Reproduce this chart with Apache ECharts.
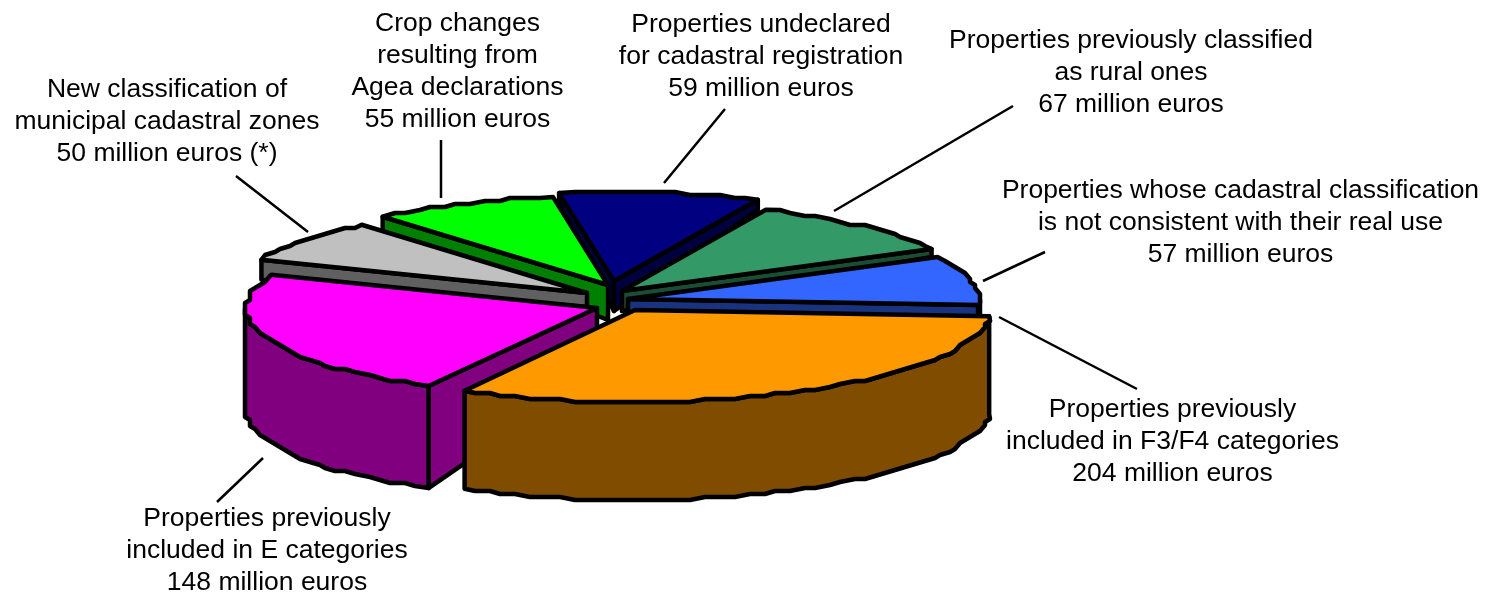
<!DOCTYPE html>
<html><head><meta charset="utf-8">
<style>html,body{margin:0;padding:0;background:#fff}#c{width:1486px;height:595px}</style>
<script src="https://cdn.jsdelivr.net/npm/echarts@6/dist/echarts.min.js"></script>
</head><body><div id="c"></div>
<script>
// ---- data (clockwise from the first slice) ----
const names = [
  'Properties undeclared\nfor cadastral registration',
  'Properties previously classified\nas rural ones',
  'Properties whose cadastral classification\nis not consistent with their real use',
  'Properties previously\nincluded in F3/F4 categories',
  'Properties previously\nincluded in E categories',
  'New classification of\nmunicipal cadastral zones',
  'Crop changes\nresulting from\nAgea declarations'
];
const values = [59, 67, 57, 204, 148, 50, 55];
const notes = ['', '', '', '', '', ' (*)', ''];

// ---- styles ----
const topColors  = ['#000080', '#339966', '#3366FF', '#FF9900', '#FF00FF', '#C0C0C0', '#00FF00'];
const sideColors = ['#000040', '#1A4D33', '#1A3380', '#804D00', '#800080', '#606060', '#008000'];

// ---- layout ----
const firstAngle = -9;
const radiusX = [351, 351, 351, 355, 351, 351, 351];
const radiusY = [89, 89, 89, 92, 89, 89, 89];
const hubBase = [612, 298];
const explodeX = [2, 10, 16, 23, -15, -25, -4];
const explodeY = [-17, -7, 1, 12, 10, -5, -13];
const rimDepth = [10, 8, 12, 98, 102, 20, 15];
const hubDepth = [30, 20, 14, 98, 64, 14, 35];
const paintOrder = [0, 6, 1, 5, 2, 4, 3];
const snapX = 5, snapY = 3;
const labelX = [761, 1131, 1240.5, 1172.5, 267, 167, 457.5];
const labelY = [57, 73, 223, 442, 551, 122, 72];
const leaderX1 = [725, 1013, 1045, 1137, 263, 236, 441];
const leaderY1 = [109, 106, 252, 389, 458, 176, 140];
const leaderX2 = [664, 834, 983, 999, 217, 308, 441];
const leaderY2 = [183, 211, 281, 317, 502, 232, 198];

const total = values.reduce((a, b) => a + b, 0);
const starts = [];
values.reduce((acc, v, i) => { starts[i] = acc; return acc + v / total * 360; }, firstAngle);

function renderSlice(params, api) {
  const i = api.value(0);
  const a0 = starts[i], a1 = a0 + values[i] / total * 360;
  const hx = hubBase[0] + explodeX[i], hy = hubBase[1] + explodeY[i];
  const rx = radiusX[i], ry = radiusY[i];
  const rad = d => d * Math.PI / 180;
  const exact = d => [hx + rx * Math.sin(rad(d)), hy - ry * Math.cos(rad(d))];
  const rim = d => {
    const p = exact(d);
    return [Math.round(p[0] / snapX) * snapX, Math.round(p[1] / snapY) * snapY];
  };
  const arc = [];
  const step = 2.4;
  for (let d = a0; d < a1; d += step) arc.push(d);
  arc.push(a1);
  const arcPts = arc.map(rim);
  arcPts[0] = exact(a0); arcPts[arcPts.length - 1] = exact(a1);
  const poly = (pts, fill) => ({
    type: 'polygon', silent: true,
    shape: { points: pts.map(p => api.coord(p)) },
    style: { fill: fill, stroke: '#000', lineWidth: 4.5, lineJoin: 'round' }
  });
  const children = [];
  const rd = rimDepth[i], hd = hubDepth[i];
  const wall = d => {
    const p = exact(d);
    return poly([[hx, hy], p, [p[0], p[1] + rd], [hx, hy + hd]], sideColors[i]);
  };
  const norm = d => ((d % 360) + 360) % 360;
  if (norm(a0) > 180) children.push(wall(a0));
  if (norm(a1) < 180) children.push(wall(a1));
  const front = arc.map((d, k) => [d, arcPts[k]]).filter(e => norm(e[0]) >= 90 && norm(e[0]) <= 270).map(e => e[1]);
  if (front.length > 1) {
    const lower = front.slice().reverse().map(p => [p[0], p[1] + rd]);
    children.push(poly(front.concat(lower), sideColors[i]));
  }
  children.push(poly([[hx, hy]].concat(arcPts), topColors[i]));
  return { type: 'group', children: children };
}

const chart = echarts.init(document.getElementById('c'), null, { renderer: 'canvas' });
chart.setOption({
  animation: false,
  backgroundColor: '#fff',
  grid: { left: 0, right: 0, top: 0, bottom: 0 },
  xAxis: { type: 'value', min: 0, max: 1486, show: false },
  yAxis: { type: 'value', min: 0, max: 595, inverse: true, show: false },
  series: [
    {
      type: 'custom', coordinateSystem: 'cartesian2d', silent: true,
      data: values.map((v, i) => [leaderX1[i], leaderY1[i], leaderX2[i], leaderY2[i]]),
      renderItem: (p, api) => {
        const a = api.coord([api.value(0), api.value(1)]), b = api.coord([api.value(2), api.value(3)]);
        return { type: 'line', silent: true, shape: { x1: a[0], y1: a[1], x2: b[0], y2: b[1] },
          style: { stroke: '#000', lineWidth: 2.5, fill: null } };
      }
    },
    {
      type: 'custom', coordinateSystem: 'cartesian2d', silent: true,
      data: paintOrder.map(i => [i, values[i]]),
      encode: { x: 0, y: 1 },
      renderItem: renderSlice
    },
    {
      type: 'custom', coordinateSystem: 'cartesian2d', silent: true,
      data: values.map((v, i) => [labelX[i], labelY[i], i]),
      renderItem: (p, api) => {
        const c = api.coord([api.value(0), api.value(1)]);
        const i = api.value(2);
        return { type: 'text', silent: true, x: c[0], y: c[1],
          style: { text: names[i] + '\n' + values[i] + ' million euros' + notes[i],
            fill: '#000', font: '26.5px "Liberation Sans", Arial, sans-serif',
            lineHeight: 32, align: 'center', verticalAlign: 'middle' } };
      }
    }
  ]
});
</script></body></html>
